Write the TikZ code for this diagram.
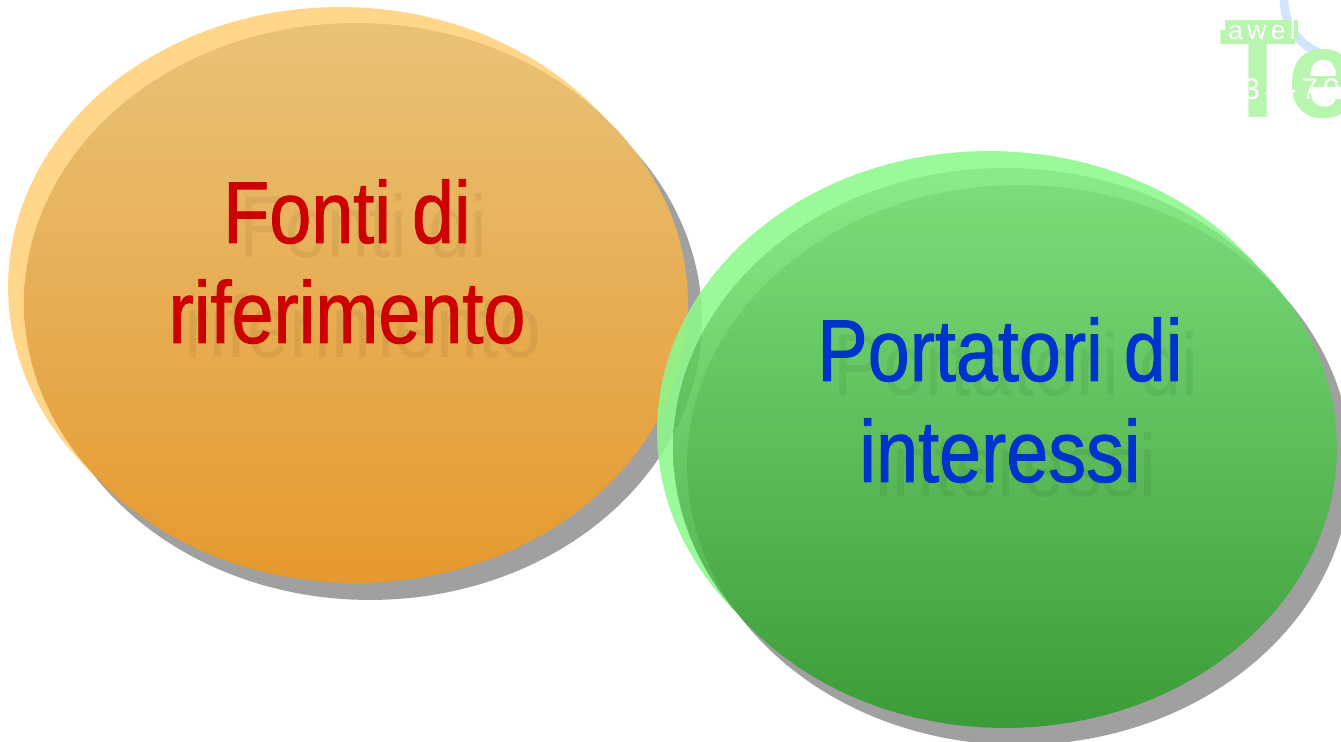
\documentclass[tikz,border=0pt]{standalone}
\usepackage{fontspec}
\newfontfamily\narrowfont[FakeStretch=0.86, FakeBold=1]{Liberation Sans}
\newfontfamily\ghostfont[FakeStretch=0.86]{Liberation Sans}
\newfontfamily\logofont{Liberation Sans}
\usetikzlibrary{positioning}

\definecolor{shadowgray}{HTML}{A0A0A0}
\definecolor{rimorange}{HTML}{FFD68A}
\definecolor{toporange}{HTML}{E9C278}
\definecolor{botorange}{HTML}{E5992E}
\definecolor{rimgreen}{HTML}{8CF98C}
\definecolor{topgreen}{HTML}{78E878}
\definecolor{botgreen}{HTML}{2E9B2A}
\definecolor{fontired}{HTML}{CC0000}
\definecolor{portblue}{HTML}{0033CC}
\definecolor{logogreen}{HTML}{B8F5AE}
\definecolor{logoblue}{HTML}{D2E5FA}

\tikzset{
    bubble/.style={x radius=6.64cm, y radius=5.6cm},
    bubbletext/.style={anchor=base, inner sep=0pt, font=\narrowfont\fontsize{50}{57}\selectfont},
    ghost/.style={anchor=base, inner sep=0pt, font=\ghostfont\fontsize{50}{57}\selectfont,
                  text=black, text opacity=0.06},
}

\begin{document}
\begin{tikzpicture}[x=0.02cm, y=-0.02cm]
    \useasboundingbox (0,0) rectangle (1341,742);
    \clip (0,0) rectangle (1341,742);

    % fonti di riferimento
    \fill[shadowgray] (370,320) ellipse [bubble];
    \fill[rimorange] (340,287) ellipse [bubble];
    \shade[top color=toporange, bottom color=botorange] (356,303) ellipse [bubble];
    \node[ghost] at (363,258) {Fonti di};
    \node[ghost] at (363,358) {riferimento};
    \node[bubbletext, text=fontired] (fonti) at (347,243) {Fonti di};
    \node[bubbletext, text=fontired] (rif) at (347,343) {riferimento};

    % portatori di interessi
    \fill[shadowgray] (1019,465) ellipse [bubble];
    \begin{scope}[transparency group, opacity=0.88]
        \fill[rimgreen] (989,431) ellipse [bubble];
        \shade[top color=topgreen, bottom color=botgreen] (1005,448) ellipse [bubble];
    \end{scope}
    \node[ghost] at (1016,396) {Portatori di};
    \node[ghost] at (1016,497) {interessi};
    \node[bubbletext, text=portblue] (port) at (1000,381) {Portatori di};
    \node[bubbletext, text=portblue] (inter) at (1000,482) {interessi};

    % logo in the corner
    \draw[logoblue, line width=5pt] (1284,0) arc [start angle=180, end angle=260, radius=1.15cm];
    \node[anchor=base west, inner sep=0pt, text=logogreen,
          font=\logofont\bfseries\fontsize{72}{72}\selectfont] (te) at (1219,118) {Te};
    \fill[logogreen] (1225,20) rectangle (1298,39);
    \node[text=white, inner sep=0pt, font=\logofont\fontsize{15}{15}\selectfont] (awel) at (1262,30) {a\,w\,e\,l};
    \node[anchor=base west, text=white, inner sep=0pt, font=\logofont\fontsize{17}{17}\selectfont] (num) at (1243,100) {3\,4\,-\,7\,0};
\end{tikzpicture}
\end{document}
